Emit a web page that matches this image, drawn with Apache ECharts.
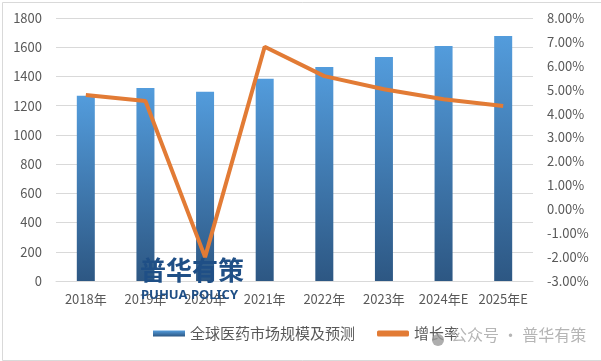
<!DOCTYPE html>
<html><head><meta charset="utf-8">
<script src="https://cdn.jsdelivr.net/npm/echarts@6/dist/echarts.min.js"></script>
<style>html,body{margin:0;padding:0;background:#fff}#c{width:601px;height:361px}</style>
</head><body><div id="c"></div>
<script>
const categories = ['2018年','2019年','2020年','2021年','2022年','2023年','2024年E','2025年E'];
const marketSize = [1268, 1321, 1295, 1385, 1465, 1533, 1608, 1677];
const growthRate = [4.78, 4.53, -2.0, 6.8, 5.57, 5.02, 4.6, 4.32];
const barName = '全球医药市场规模及预测';
const lineName = '增长率';

const chart = echarts.init(document.getElementById('c'), null, {renderer:'canvas'});
const font = '"Noto Sans CJK SC", "Noto Sans", sans-serif';
chart.setOption({
  animation: false,
  backgroundColor: '#fff',
  textStyle: {fontFamily: font},
  grid: {left: 56, right: 68, top: 18, bottom: 80},
  legend: {
    bottom: 15, left: 148, itemGap: 22, itemWidth: 32, itemHeight: 6,
    textStyle: {color: '#595959', fontSize: 15, fontFamily: font},
    data: [
      {name: barName, icon: 'rect'},
      {name: lineName, icon: 'roundRect', itemStyle: {color: '#E27B35'}}
    ]
  },
  xAxis: {
    type: 'category', data: categories,
    axisLine: {lineStyle: {color: '#d9d9d9'}},
    axisTick: {show: false},
    axisLabel: {color: '#595959', fontSize: 13, margin: 12, interval: 0}
  },
  yAxis: [
    {type: 'value', min: 0, max: 1800, interval: 200,
     axisLabel: {color: '#595959', fontSize: 13, margin: 14, formatter: v => String(v)},
     splitLine: {lineStyle: {color: '#d9d9d9'}}, axisLine: {show: false}, axisTick: {show: false}},
    {type: 'value', min: -3, max: 8, interval: 1,
     axisLabel: {color: '#595959', fontSize: 13, margin: 14, formatter: v => v.toFixed(2) + '%'},
     splitLine: {show: false}, axisLine: {show: false}, axisTick: {show: false}}
  ],
  series: [
    {name: barName, type: 'bar', data: marketSize, barWidth: 18,
     itemStyle: {color: new echarts.graphic.LinearGradient(0,0,0,1,[{offset:0,color:'#539cdc'},{offset:1,color:'#2d5783'}])}},
    {name: lineName, type: 'line', yAxisIndex: 1, data: growthRate, smooth: false,
     symbol: 'none', lineStyle: {color: '#E27B35', width: 4}, itemStyle: {color: '#E27B35'}}
  ],
  graphic: [
    {type: 'rect', left: 0, top: 0, shape: {width: 600, height: 358}, style: {fill: 'none', stroke: '#d9d9d9', lineWidth: 1}, silent: true},
    {type: 'text', left: 140, top: 257, style: {text: '普华有策', fill: '#1f4f86', font: 'bold 26px "Noto Sans CJK SC"'}, z: 100},
    {type: 'text', left: 141, top: 289, style: {text: 'PUHUA POLICY', fill: '#1f4f86', font: 'bold 13px "Noto Sans"'}, z: 100},
    {type: 'circle', shape: {cx: 438, cy: 340, r: 6}, style: {fill: '#9a9a9a', opacity: 0.8}, z: 100},
    {type: 'text', left: 451, top: 327, style: {text: '公众号 · 普华有策', fill: '#b5b5b5', font: '16px "Noto Sans CJK SC"'}, z: 100}
  ]
});
</script></body></html>
